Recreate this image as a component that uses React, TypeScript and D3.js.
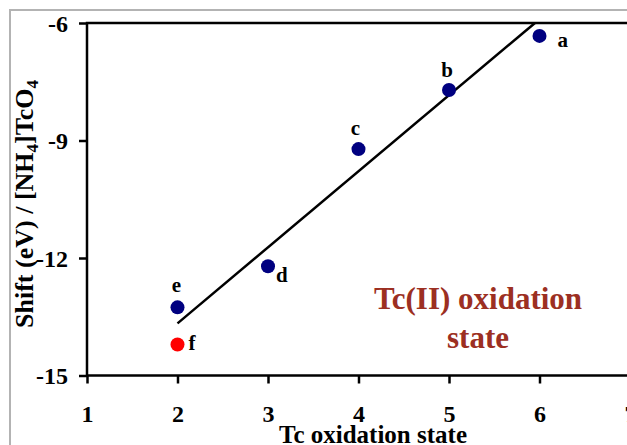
import React, { useEffect, useRef } from 'react';
import * as d3 from 'd3';

// oxidation state (x) and shift in eV (y) for each sample
const labels = ['a', 'b', 'c', 'd', 'e', 'f'];
const oxState = [6, 5, 4, 3, 2, 2];
const shiftEv = [-6.33, -7.71, -9.22, -12.21, -13.26, -14.21];
const pointColors = ['#000080', '#000080', '#000080', '#000080', '#000080', '#ff0000'];

// fitted line end points
const trendX = [2, 5.95];
const trendY = [-13.67, -6];

const xTicks = [1, 2, 3, 4, 5, 6, 7];
const yTicks = [-6, -9, -12, -15];

const App = () => {
  const svgRef = useRef<SVGSVGElement>(null);

  useEffect(() => {
    const svg = d3.select(svgRef.current);
    svg.selectAll('*').remove();

    const width = 627;
    const height = 445;
    const left = 87, top = 23, right = 630, bottom = 375.5;
    const font = '"Liberation Serif", "Times New Roman", serif';

    const x = d3.scaleLinear().domain([1, 7]).range([left, right]);
    const y = d3.scaleLinear().domain([-15, -6]).range([bottom, top]);

    svg.append('rect')
      .attr('width', width).attr('height', height).attr('fill', '#fff');

    // outer grey frame
    svg.append('path')
      .attr('d', `M10,${height + 5}V10H${width + 5}`)
      .attr('fill', 'none').attr('stroke', '#b3b3b3').attr('stroke-width', 2);

    // plot frame
    svg.append('rect')
      .attr('x', left).attr('y', top)
      .attr('width', right - left).attr('height', bottom - top)
      .attr('fill', 'none').attr('stroke', '#000').attr('stroke-width', 2.5);

    const gx = svg.append('g').attr('transform', `translate(0,${bottom})`)
      .call(d3.axisBottom(x).tickValues(xTicks).tickSize(8).tickFormat((d) => String(d)));
    gx.select('.domain').remove();
    gx.selectAll('line').attr('stroke', '#000').attr('stroke-width', 2.5);
    gx.selectAll('text')
      .attr('font-family', font).attr('font-weight', 'bold').attr('font-size', 24)
      .attr('fill', '#000').attr('dy', null).attr('y', 46.5);

    const gy = svg.append('g').attr('transform', `translate(${left},0)`)
      .call(d3.axisLeft(y).tickValues(yTicks).tickSize(8).tickFormat((d) => String(d)));
    gy.select('.domain').remove();
    gy.selectAll('line').attr('stroke', '#000').attr('stroke-width', 2.5);
    gy.selectAll('text')
      .attr('font-family', font).attr('font-weight', 'bold').attr('font-size', 24)
      .attr('fill', '#000').attr('x', -19).attr('dy', '0.34em');

    // trend line
    const line = d3.line<number>().x((d) => x(trendX[d])).y((d) => y(trendY[d]));
    svg.append('path')
      .attr('d', line([0, 1]))
      .attr('fill', 'none').attr('stroke', '#000').attr('stroke-width', 2.5);

    // points
    svg.selectAll('circle.pt')
      .data(labels)
      .join('circle')
      .attr('class', 'pt')
      .attr('cx', (_, i) => x(oxState[i]))
      .attr('cy', (_, i) => y(shiftEv[i]))
      .attr('r', 7)
      .attr('fill', (_, i) => pointColors[i]);

    // point letters, offsets relative to the dot
    const offsets: Record<string, [number, number, string]> = {
      a: [18, 11, 'start'],
      b: [-2, -13, 'middle'],
      c: [-3, -14, 'middle'],
      d: [8, 16, 'start'],
      e: [-1, -15, 'middle'],
      f: [11, 5, 'start'],
    };
    svg.selectAll('text.lbl')
      .data(labels)
      .join('text')
      .attr('class', 'lbl')
      .attr('x', (d, i) => x(oxState[i]) + offsets[d][0])
      .attr('y', (d, i) => y(shiftEv[i]) + offsets[d][1])
      .attr('text-anchor', (d) => offsets[d][2])
      .attr('font-family', font).attr('font-weight', 'bold').attr('font-size', 21)
      .text((d) => d);

    // annotation
    const note = svg.append('text')
      .attr('font-family', font).attr('font-weight', 'bold').attr('font-size', 31)
      .attr('fill', '#9c2f22').attr('text-anchor', 'middle');
    note.append('tspan').attr('x', 478).attr('y', 309).text('Tc(II) oxidation');
    note.append('tspan').attr('x', 478).attr('y', 348).text('state');

    // axis titles
    svg.append('text')
      .attr('x', 373).attr('y', 443)
      .attr('text-anchor', 'middle')
      .attr('font-family', font).attr('font-weight', 'bold').attr('font-size', 25)
      .text('Tc oxidation state');

    const yt = svg.append('text')
      .attr('transform', 'translate(33,204) rotate(-90)')
      .attr('text-anchor', 'middle')
      .attr('font-family', font).attr('font-weight', 'bold').attr('font-size', 26);
    yt.append('tspan').text('Shift (eV) / [NH');
    yt.append('tspan').attr('font-size', 17).attr('dy', 5).text('4');
    yt.append('tspan').attr('dy', -5).text(']TcO');
    yt.append('tspan').attr('font-size', 17).attr('dy', 5).text('4');
  }, []);

  return (
    <svg ref={svgRef} width={627} height={445}
      style={{ position: 'absolute', left: 0, top: 0 }} />
  );
};

export default App;
